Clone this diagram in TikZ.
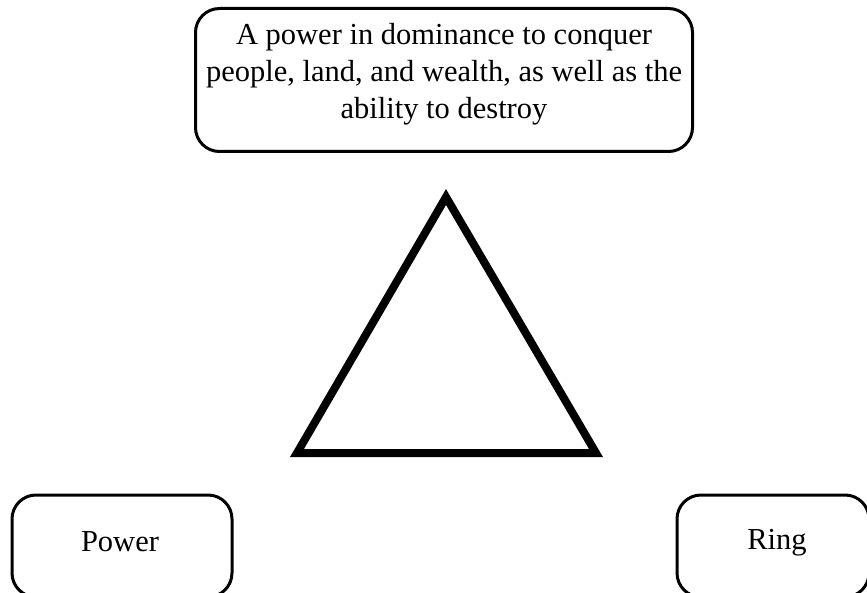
\documentclass[tikz,border=0pt]{standalone}
\usepackage{fontspec}
\setmainfont{Liberation Serif}
\begin{document}
\begin{tikzpicture}[x=1pt,y=-1pt,
  txt/.style={font=\fontsize{30.5}{37}\selectfont, inner sep=0pt, align=center},
  box/.style={draw=black, line width=3pt, rounded corners=24pt, inner sep=0pt}]
\useasboundingbox (0,0) rectangle (867,593);
\clip (0,0) rectangle (867,593);
\node[box, minimum width=497pt, minimum height=143pt] (top) at (444,80) {};
\node[txt, anchor=base] (l1) at (444,45) {A power in dominance to conquer};
\node[txt, anchor=base] (l2) at (444,82) {people, land, and wealth, as well as the};
\node[txt, anchor=base] (l3) at (444,119) {ability to destroy};
\node[box, minimum width=220pt, minimum height=102pt] (power) at (122,546) {};
\node[txt, anchor=base] (powertxt) at (120,551) {Power};
\node[box, minimum width=192pt, minimum height=102pt] (ring) at (773,546) {};
\node[txt, anchor=base] (ringtxt) at (777,549) {Ring};
\coordinate (apex) at (446,197);
\coordinate (bl) at (297,453);
\coordinate (br) at (596,453);
\draw[line width=8pt, line join=miter] (apex) -- (br) -- (bl) -- cycle;
\end{tikzpicture}
\end{document}
